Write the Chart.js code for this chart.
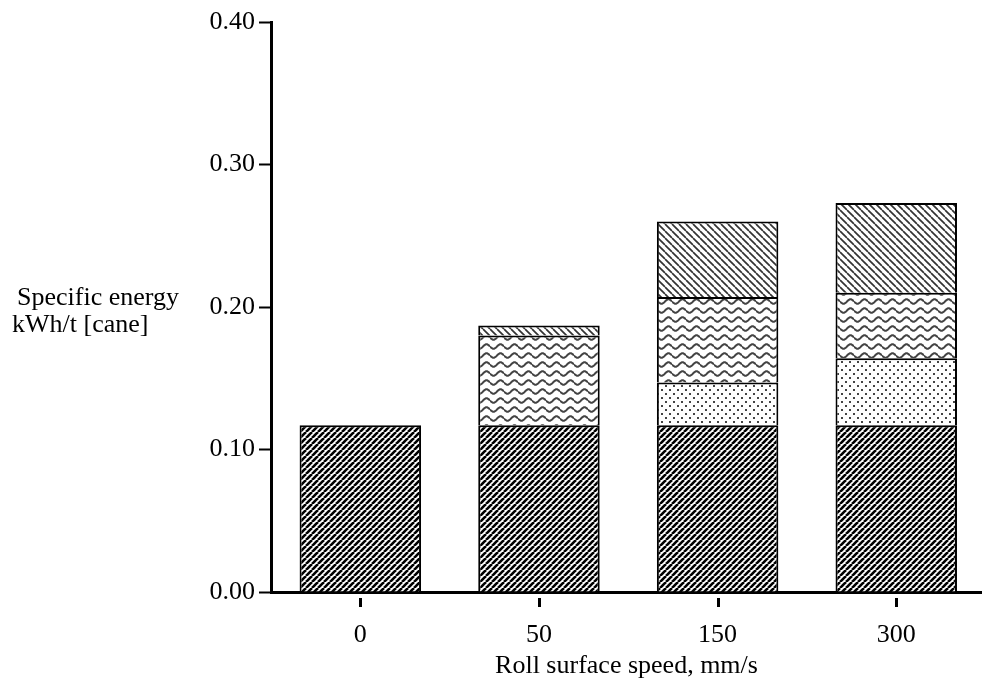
<!DOCTYPE html>
<html>
<head>
<meta charset="utf-8">
<script src="https://cdn.jsdelivr.net/npm/chart.js@4.4.0/dist/chart.umd.min.js"></script>
<style>
    html, body { margin: 0; padding: 0; background: #fff; }
    #wrap { width: 982px; height: 688px; }
</style>
</head>
<body>
<div id="wrap"><canvas id="grafico-energia" width="982" height="688"></canvas></div>
<script>
/* DADOS */
const rollSpeeds = ["0", "50", "150", "300"];          // mm/s
const baseEnergy = [0.117, 0.117, 0.117, 0.117];       // bottom, dense ///
const dottedEnergy = [0, 0, 0.030, 0.047];             // dots
const wavyEnergy = [0, 0.063, 0.060, 0.046];           // wavy lines
const topEnergy = [0, 0.007, 0.053, 0.063];            // top, light \\\
const yTicks = [0, 0.1, 0.2, 0.3, 0.4];

const fonte = { family: '"Liberation Serif", "Times New Roman", serif', size: 26 };
const canvas = document.getElementById("grafico-energia");
const ctx = canvas.getContext("2d");

/* PADRÕES (hachuras) */
function padrao(w, h, desenha) {
    const c = document.createElement("canvas");
    c.width = w; c.height = h;
    const g = c.getContext("2d");
    g.fillStyle = "#fff";
    g.fillRect(0, 0, w, h);
    desenha(g, w, h);
    return ctx.createPattern(c, "repeat");
}

const padraoBase = padrao(6, 6, (g, s) => {
    g.strokeStyle = "#000"; g.lineWidth = 2.6;
    for (let k = -1; k <= 1; k++) {
        g.beginPath(); g.moveTo(k * s, s); g.lineTo(k * s + s, 0); g.stroke();
    }
});
const padraoTopo = padrao(7, 7, (g, s) => {
    g.strokeStyle = "#333"; g.lineWidth = 1.7;
    for (let k = -1; k <= 1; k++) {
        g.beginPath(); g.moveTo(k * s, 0); g.lineTo(k * s + s, s); g.stroke();
    }
});
const padraoOnda = padrao(14, 9, (g, w, h) => {
    g.strokeStyle = "#444"; g.lineWidth = 2;
    for (const off of [-h, 0, h]) {
        g.beginPath();
        for (let x = 0; x <= w; x += 0.5) {
            const y = h / 2 + off + 2.2 * Math.sin(2 * Math.PI * x / w);
            if (x === 0) g.moveTo(x, y); else g.lineTo(x, y);
        }
        g.stroke();
    }
});
const padraoPontos = padrao(8, 8, (g) => {
    g.fillStyle = "#444";
    g.fillRect(1, 1, 2, 2);
    g.fillRect(5, 5, 2, 2);
});

function pontos(valores) {
    return valores.map((v, i) => ({ x: i, y: v }));
}

function serie(valores, fundo) {
    return {
        data: pontos(valores),
        backgroundColor: fundo,
        borderColor: "#000",
        borderWidth: 2,
        barPercentage: 0.68,
        categoryPercentage: 1
    };
}

/* TÍTULO DO EIXO Y (horizontal, duas linhas) */
const tituloY = {
    id: "tituloY",
    afterDraw(chart) {
        const c = chart.ctx;
        const y = chart.scales.y.getPixelForValue(0.2);
        c.save();
        c.font = '26px "Liberation Serif", serif';
        c.fillStyle = "#000";
        c.textAlign = "left";
        c.textBaseline = "middle";
        c.fillText("Specific energy", 17, y - 9);
        c.fillText("kWh/t [cane]", 12, y + 18);
        c.restore();
    }
};

/* MARCAS DO EIXO X (com espaço abaixo da linha) */
const marcasX = {
    id: "marcasX",
    afterDraw(chart) {
        const c = chart.ctx;
        const sx = chart.scales.x;
        const base = chart.chartArea.bottom;
        c.save();
        c.strokeStyle = "#000";
        c.lineWidth = 3;
        rollSpeeds.forEach((_, i) => {
            const x = Math.round(sx.getPixelForValue(i)) + 0.5;
            c.beginPath(); c.moveTo(x, base + 6); c.lineTo(x, base + 15); c.stroke();
        });
        c.restore();
    }
};

/* GRÁFICO */
new Chart(canvas, {
    type: "bar",
    data: {
        datasets: [
            serie(baseEnergy, padraoBase),
            serie(dottedEnergy, padraoPontos),
            serie(wavyEnergy, padraoOnda),
            serie(topEnergy, padraoTopo)
        ]
    },
    options: {
        responsive: false,
        animation: false,
        devicePixelRatio: 1,
        layout: { padding: { top: 22, right: 0, bottom: 0, left: 0 } },
        plugins: { legend: { display: false }, tooltip: { enabled: false } },
        scales: {
            x: {
                type: "linear",
                stacked: true,
                offset: false,
                min: -0.5,
                max: 3.48,
                afterBuildTicks: s => { s.ticks = rollSpeeds.map((_, i) => ({ value: i })); },
                afterFit: s => { s.height = 96; },
                grid: { display: false, drawTicks: true, tickLength: 16 },
                border: { display: true, color: "#000", width: 3 },
                ticks: { color: "#000", font: fonte, padding: 12, callback: v => rollSpeeds[v] },
                title: { display: true, text: "Roll surface speed, mm/s", color: "#000", font: fonte, padding: { top: 0, bottom: 6 } }
            },
            y: {
                stacked: true,
                min: 0,
                max: 0.4,
                afterBuildTicks: s => { s.ticks = yTicks.map(v => ({ value: v })); },
                afterFit: s => { s.width = 271; },
                grid: { drawOnChartArea: false, drawTicks: true, tickLength: 12, tickWidth: 2, tickColor: "#000" },
                border: { color: "#000", width: 3 },
                ticks: { color: "#000", font: fonte, padding: 4, callback: v => v.toFixed(2) }
            }
        }
    },
    plugins: [tituloY, marcasX]
});
</script>
</body>
</html>
